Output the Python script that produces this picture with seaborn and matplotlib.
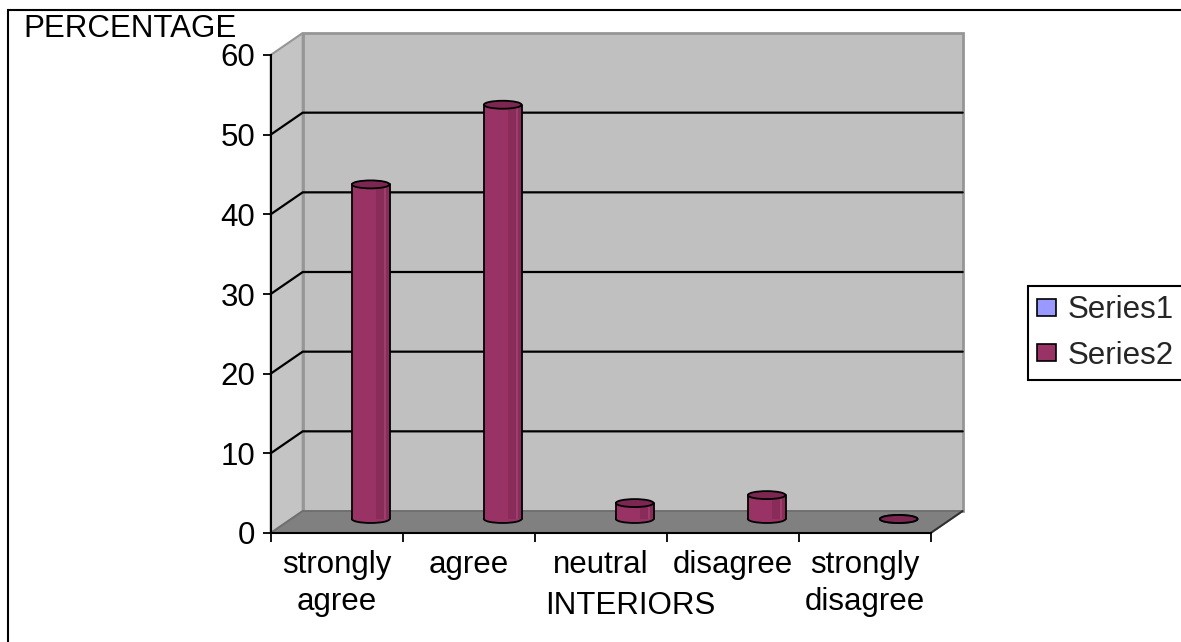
import numpy as np
import pandas as pd
import matplotlib
matplotlib.use("Agg")
import matplotlib.pyplot as plt
import matplotlib.transforms as mtransforms
from matplotlib.patches import Polygon, Ellipse, Rectangle, Patch
from matplotlib.lines import Line2D
import seaborn as sns

# ---- data ----
categories = ["strongly\nagree", "agree", "neutral", "disagree", "strongly\ndisagree"]
series2 = [42, 52, 2, 3, 0]
series_names = ["Series1", "Series2"]
series_colors = ["#9999ff", "#993366"]
y_ticks = [0, 10, 20, 30, 40, 50, 60]

W, H, DPI = 1181, 642, 100
FS = 22.5
sns.set_style("white")
plt.rcParams["font.family"] = ["Liberation Sans", "DejaVu Sans"]
plt.rcParams["font.size"] = FS

fig = plt.figure(figsize=(W / DPI, H / DPI), dpi=DPI)
fig.patch.set_facecolor("white")

# front face of the plot box, in pixels from the top-left corner
fx0, fx1, fy0, fy1 = 270.7, 930.7, 533.0, 55.0
ax = fig.add_axes([fx0 / W, 1 - fy0 / H, (fx1 - fx0) / W, (fy0 - fy1) / H])
ax.patch.set_alpha(0)

# bars drawn with seaborn, then lifted into the 3-D box
df = pd.DataFrame({"category": categories, "value": series2})
sns.barplot(data=df, x="category", y="value", color=series_colors[1],
            saturation=1, width=0.285, ax=ax, zorder=5)
bars = list(ax.patches)

ax.set_xlim(-0.5, len(categories) - 0.5)
ax.set_ylim(0, 60)
ax.set_xlabel("")
ax.set_ylabel("")

depth = np.array([32.0, 22.0])  # px right / up from front to back plane
bar_tr = mtransforms.offset_copy(ax.transData, fig=fig, x=34, y=14, units="dots")
ident = mtransforms.IdentityTransform()


def pt(x, y, d=0.0):
    """Display coords of data point (x, y) pushed back by fraction d of the depth."""
    return ax.transData.transform((x, y)) + d * depth


xa, xb = ax.get_xlim()
ya, yb = ax.get_ylim()

# back wall
ax.add_patch(Polygon([pt(xa, ya, 1), pt(xb, ya, 1), pt(xb, yb, 1), pt(xa, yb, 1)],
                     closed=True, transform=ident, fc="#c0c0c0", ec="#969696",
                     lw=2, zorder=0, clip_on=False))
# side wall
ax.add_patch(Polygon([pt(xa, ya, 0), pt(xa, ya, 1), pt(xa, yb, 1), pt(xa, yb, 0)],
                     closed=True, transform=ident, fc="#c4c4c4", ec="#969696",
                     lw=1.5, zorder=0.5, clip_on=False))
# gridlines on back wall and side wall
for v in y_ticks[1:-1]:
    p0, p1, p2 = pt(xa, v, 0), pt(xa, v, 1), pt(xb, v, 1)
    ax.add_line(Line2D([p0[0], p1[0], p2[0]], [p0[1], p1[1], p2[1]],
                       transform=ident, color="black", lw=1.6, zorder=0.8,
                       clip_on=False))
# floor
ax.add_patch(Polygon([pt(xa, ya, 0), pt(xb, ya, 0), pt(xb, ya, 1), pt(xa, ya, 1)],
                     closed=True, transform=ident, fc="#808080", ec="#6e6e6e",
                     lw=1.3, zorder=1, clip_on=False))
q0, q1 = pt(xb, ya, 0), pt(xb, ya, 1)
ax.add_line(Line2D([q0[0], q1[0]], [q0[1], q1[1]], transform=ident,
                   color="#303030", lw=1.4, zorder=1.1, clip_on=False))

# cylinders
ell_h = 1.0
for p in bars:
    p.set_transform(bar_tr)
    p.set_edgecolor("none")
    p.set_clip_on(False)
    x, w, h = p.get_x(), p.get_width(), p.get_height()
    cx = x + w / 2
    ax.add_patch(Ellipse((cx, 0), w, ell_h, transform=bar_tr, fc=series_colors[1],
                         ec="black", lw=1.3, zorder=4, clip_on=False))
    if h > 0:
        ax.add_patch(Rectangle((x + 0.64 * w, 0), 0.36 * w, h, transform=bar_tr,
                               fc="#6e2046", alpha=0.35, lw=0, zorder=5.5,
                               clip_on=False))
        ax.add_patch(Rectangle((x + 0.86 * w, 0), 0.04 * w, h, transform=bar_tr,
                               fc="#b0507e", alpha=0.5, lw=0, zorder=5.6,
                               clip_on=False))
        for sx in (x, x + w):
            ax.add_line(Line2D([sx, sx], [0, h], transform=bar_tr, color="black",
                               lw=1.3, zorder=6, clip_on=False))
    ax.add_patch(Ellipse((cx, h), w, ell_h, transform=bar_tr, fc="#7b2752",
                         ec="black", lw=1.3, zorder=7, clip_on=False))

# axes lines and ticks
for s in ("top", "right"):
    ax.spines[s].set_visible(False)
for s in ("left", "bottom"):
    ax.spines[s].set_color("black")
    ax.spines[s].set_linewidth(1.5)
    ax.spines[s].set_zorder(3)

ax.set_yticks(y_ticks)
ax.tick_params(axis="y", left=True, direction="out", length=6, width=1.3,
               pad=5, labelsize=FS, colors="black")
ax.set_xticks(range(len(categories)))
ax.set_xticklabels(categories)
ax.set_xticks(np.arange(xa, xb + 0.01, 1.0), minor=True)
ax.tick_params(axis="x", which="major", bottom=True, length=0, pad=12,
               labelsize=FS, labelcolor="black")
ax.tick_params(axis="x", which="minor", bottom=True, direction="out",
               length=6.5, width=1.3, color="black")
for lab in ax.get_xticklabels():
    lab.set_linespacing(1.3)

# titles
fig.text(23 / W, 1 - 36.7 / H, "PERCENTAGE", ha="left", va="baseline",
         fontsize=FS, color="black")
fig.text(630 / W, 1 - 614 / H, "INTERIORS", ha="center", va="baseline",
         fontsize=FS, color="black")

# legend
handles = [Patch(fc=c, ec="black", lw=1.2) for c in series_colors]
leg = fig.legend(handles, series_names, loc="upper left",
                 bbox_to_anchor=(1028 / W, 1 - 286 / H),
                 bbox_transform=fig.transFigure, borderaxespad=0,
                 frameon=True, fancybox=False, shadow=False, edgecolor="black",
                 framealpha=1, fontsize=FS, handlelength=0.58, handleheight=0.47,
                 handletextpad=0.38, labelspacing=0.5, borderpad=0.3)
leg.get_frame().set_linewidth(1.5)

# chart-area border
fig.add_artist(Rectangle((8 / W, -0.1), 1.2, 1 - 10 / H + 0.1,
                         transform=fig.transFigure, fill=False,
                         ec="black", lw=1.5, clip_on=False))

fig.savefig("out.png", dpi=DPI)
